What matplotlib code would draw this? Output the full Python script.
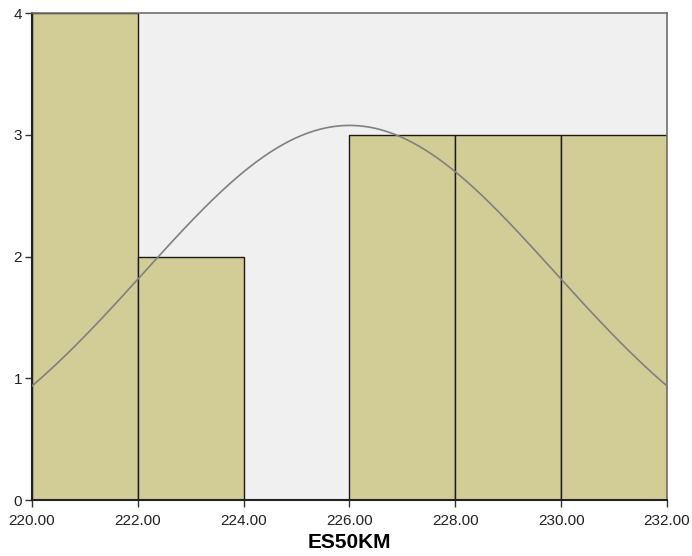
import matplotlib.pyplot as plt
import numpy as np

plt.rcParams['font.family'] = ['Liberation Sans', 'DejaVu Sans']

# histogram bins and counts
bin_edges = [220, 222, 224, 226, 228, 230, 232]
counts = [4, 2, 0, 3, 3, 3]

# normal curve parameters
n_total = 15
mean_val = 226.0
std_val = 3.89

fig = plt.figure(figsize=(6.92, 5.56), dpi=100)
ax = fig.add_axes([0.0462, 0.1007, 0.9177, 0.8759])
ax.set_facecolor('#f0f0f0')

lefts = np.array(bin_edges[:-1])
widths = np.diff(bin_edges)
ax.bar(lefts, counts, width=widths, align='edge', color='#d2cd96',
       edgecolor='#1a1a1a', linewidth=1.0, zorder=2)

bw = widths[0]
xs = np.linspace(bin_edges[0], bin_edges[-1], 300)
ys = n_total * bw * np.exp(-0.5 * ((xs - mean_val) / std_val) ** 2) / (std_val * np.sqrt(2 * np.pi))
ax.plot(xs, ys, color='#808080', linewidth=1.2, zorder=3)

ax.set_xlim(bin_edges[0], bin_edges[-1])
ax.set_ylim(0, 4)
ax.set_xticks(bin_edges)
ax.set_xticklabels(['%.2f' % v for v in bin_edges])
ax.set_yticks([0, 1, 2, 3, 4])

ax.tick_params(axis='both', direction='out', length=5, width=1, colors='#333333',
               labelsize=11, labelcolor='#222222', pad=2)
ax.tick_params(axis='x', pad=5)
for s in ['left', 'bottom']:
    ax.spines[s].set_color('#222222')
    ax.spines[s].set_linewidth(1.5)
for s in ['top', 'right']:
    ax.spines[s].set_color('#707070')
    ax.spines[s].set_linewidth(1.2)

ax.set_xlabel('ES50KM', fontsize=15, fontweight='bold', labelpad=4)

fig.savefig('out.png', dpi=100)
